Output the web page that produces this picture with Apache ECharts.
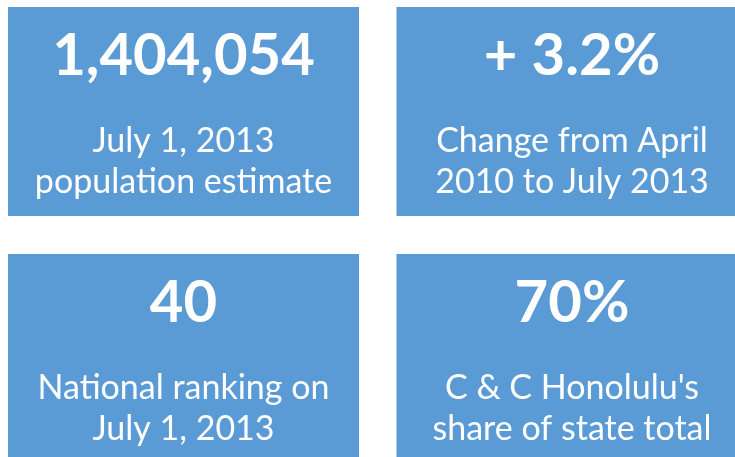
<!DOCTYPE html>
<html>
<head>
<meta charset="utf-8">
<script src="https://cdn.jsdelivr.net/npm/echarts@6/dist/echarts.min.js"></script>
<style>
  html, body { margin: 0; padding: 0; background: #fff; }
  #chart { width: 735px; height: 457px; }
</style>
</head>
<body>
<div id="chart"></div>
<script>
// tile contents (column / row index in the 2x2 layout)
const tileCol = [0, 1, 0, 1]
const tileRow = [0, 0, 1, 1]
const headline = ['1,404,054', '+ 3.2%', '40', '70%']
const captionLine1 = ['July 1, 2013', 'Change from April', 'National ranking on', "C & C Honolulu's"]
const captionLine2 = ['population estimate', '2010 to July 2013', 'July 1, 2013', 'share of state total']

const BLUE = '#5B9BD5'
const FONT = 'Lato, "Open Sans", sans-serif'

const chart = echarts.init(document.getElementById('chart'), null, { renderer: 'canvas' })

const data = tileCol.map((c, i) => [c, tileRow[i], headline[i], captionLine1[i], captionLine2[i]])

chart.setOption({
  animation: false,
  grid: { left: 0, right: 0, top: 0, bottom: 0 },
  xAxis: { type: 'value', min: -0.4723, max: 1.4195, show: false },
  yAxis: { type: 'value', min: -0.4514, max: 1.3988, inverse: true, show: false },
  series: [{
    type: 'custom',
    data: data,
    encode: { x: 0, y: 1 },
    renderItem(params, api) {
      const center = api.coord([api.value(0), api.value(1)])
      const size = api.size([0.9035, 0.846])
      const w = size[0]
      const h = size[1]
      const x = center[0] - w / 2
      const y = center[1] - h / 2
      const cx = center[0]
      return {
        type: 'group',
        children: [
          { type: 'rect', shape: { x: x, y: y, width: w, height: h }, style: { fill: BLUE } },
          {
            type: 'text',
            style: {
              text: api.value(2), x: cx, y: y + 78,
              fill: '#fff', font: 'bold 58px ' + FONT,
              align: 'center', verticalAlign: 'bottom'
            }
          },
          {
            type: 'text',
            style: {
              text: api.value(3), x: cx, y: y + 151,
              fill: '#fff', font: '34px ' + FONT,
              align: 'center', verticalAlign: 'bottom'
            }
          },
          {
            type: 'text',
            style: {
              text: api.value(4), x: cx, y: y + 192,
              fill: '#fff', font: '34px ' + FONT,
              align: 'center', verticalAlign: 'bottom'
            }
          }
        ]
      }
    }
  }]
})
</script>
</body>
</html>
